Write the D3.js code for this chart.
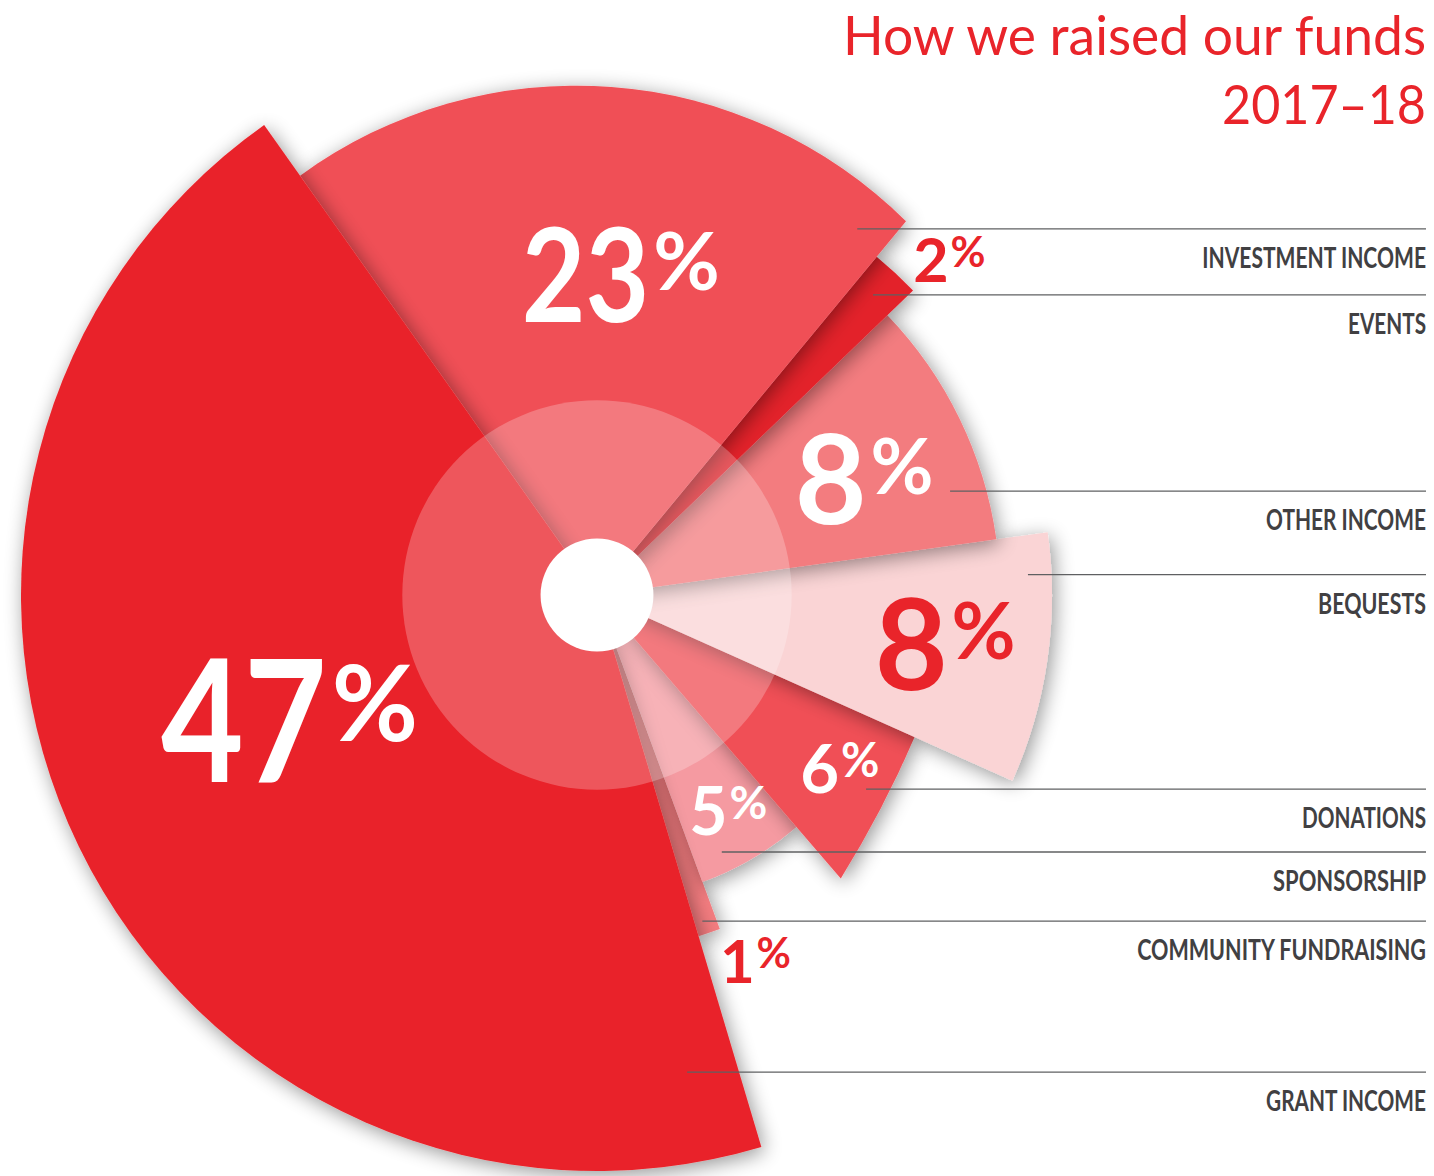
<!DOCTYPE html>
<html><head><meta charset="utf-8">
<script src="https://cdn.jsdelivr.net/npm/d3@7"></script>
<style>html,body{margin:0;padding:0;background:#fff;} svg{display:block;}</style>
</head><body>
<svg id="chart" width="1434" height="1176"></svg>
<script>
// ---------- data ----------
const categories = ["INVESTMENT INCOME","EVENTS","OTHER INCOME","BEQUESTS","DONATIONS","SPONSORSHIP","COMMUNITY FUNDRAISING","GRANT INCOME"];
const values = [23, 2, 8, 8, 6, 5, 1, 47];
// angular share of the turn each wedge occupies in the picture (percent of 360°)
const sweepShare = [20.8, 1.8, 10.0, 8.9, 7.0, 5.7, 1.0, 44.8];
// how far each wedge reaches (percent of the longest wedge) at its start, middle and end edge
const reachStart = [89.2, 76.2, 70.0, 79.0, 60.4, 53.1, 61.8, 100];
const reachMid   = [88.2, 76.2, 70.0, 79.0, 61.6, 53.1, 61.8, 100];
const reachEnd   = [84.2, 76.2, 70.0, 79.0, 64.9, 53.1, 61.8, 100];
const titleLines = ["How we raised our funds", "2017\u201318"];

// ---------- layout & style ----------
const W = 1434, H = 1176, cx = 597, cy = 595, Rmax = 576;
const deg = Math.PI / 180;
const startAt = -35.3 * deg;
const fills = ["#F04F56","#E3202A","#F37B7F","#FAD4D5","#F04F56","#F59AA1","#F37B7F","#E9242A"];
const labelFill = ["#fff","#E9242A","#fff","#E9242A","#fff","#fff","#E9242A","#fff"];
const drawOrder = [6,5,4,3,2,1,0,7];
// value label anchor: [angle°, reach%, digit font size]
const labelAt = [[345.6,48.9,131],[45.5,77.6,61],[70.7,37.3,124],[108.6,51.8,126],[133.9,49.6,67],[158.4,44.8,66],[162.1,70.8,60],[246.4,81.3,170]];
// leader line start: [angle°, reach%]
const leaderAt = [[35.4,78],[42.6,70.8],[73.6,63.9],[87.3,74.9],[125.8,57.6],[154.1,49.6],[162.1,59.5],[169.3,84.3]];
const catWidths = [224,78,160,108,124,153,289,160];
const rightEdge = 1426;
const FONT = "Lato, 'Open Sans', 'Noto Sans', sans-serif";

const svg = d3.select("#chart").attr("viewBox", `0 0 ${W} ${H}`);
svg.append("rect").attr("width", W).attr("height", H).attr("fill", "#fff");

const defs = svg.append("defs");
const f = defs.append("filter").attr("id","shadow").attr("x","-25%").attr("y","-25%").attr("width","150%").attr("height","150%");
f.append("feGaussianBlur").attr("in","SourceAlpha").attr("stdDeviation",10).attr("result","b");
f.append("feOffset").attr("in","b").attr("dx",3).attr("dy",4).attr("result","o");
f.append("feComponentTransfer").attr("in","o").attr("result","s")
  .append("feFuncA").attr("type","linear").attr("slope",0.42);
const fm = f.append("feMerge");
fm.append("feMergeNode").attr("in","s");
fm.append("feMergeNode").attr("in","SourceGraphic");

const rScale = d3.scaleLinear().domain([0, 100]).range([0, Rmax]);

const rows = categories.map((c, i) => ({
  cat: c, value: values[i], sweep: sweepShare[i],
  r0: reachStart[i], rm: reachMid[i], r1: reachEnd[i], i
}));

const pie = d3.pie().sort(null).value(d => d.sweep)
  .startAngle(startAt).endAngle(startAt + 2 * Math.PI);
const arcs = pie(rows);

const arcGen = d3.arc().innerRadius(0);

function wedge(d) {
  const a0 = d.startAngle, a1 = d.endAngle, am = (a0 + a1) / 2;
  const r0 = rScale(d.data.r0), rm = rScale(d.data.rm), r1 = rScale(d.data.r1);
  if (Math.abs(r0 - rm) < 0.01 && Math.abs(rm - r1) < 0.01) {
    return arcGen.outerRadius(r0)(d);
  }
  const [ax, ay] = d3.pointRadial(a0, r0);
  const [bx, by] = d3.pointRadial(am, rm);
  const [qx, qy] = d3.pointRadial(a1, r1);
  const dd = 2 * (ax * (by - qy) + bx * (qy - ay) + qx * (ay - by));
  const A = ax*ax + ay*ay, B = bx*bx + by*by, Q = qx*qx + qy*qy;
  const ux = (A * (by - qy) + B * (qy - ay) + Q * (ay - by)) / dd;
  const uy = (A * (qx - bx) + B * (ax - qx) + Q * (bx - ax)) / dd;
  const rad = Math.hypot(ax - ux, ay - uy);
  const s = Math.atan2(ay - uy, ax - ux), e = Math.atan2(qy - uy, qx - ux);
  const p = d3.path();
  p.moveTo(0, 0); p.lineTo(ax, ay); p.arc(ux, uy, rad, s, e, false); p.closePath();
  return p.toString();
}

const g = svg.append("g").attr("transform", `translate(${cx},${cy})`);
const wedges = g.append("g");
drawOrder.forEach(k => {
  const d = arcs[k];
  wedges.append("path").attr("d", wedge(d)).attr("fill", fills[k]).attr("filter", "url(#shadow)");
});

// translucent inner disc and white hub
g.append("circle").attr("r", rScale(33.8)).attr("fill", "#fff").attr("fill-opacity", 0.24);
g.append("circle").attr("r", rScale(9.8)).attr("fill", "#fff");

// helper: right-aligned text squeezed to a measured width via a transform
function fitText(parent, x, y, str, width, attrs) {
  const holder = parent.append("g").attr("transform", `translate(${x},${y})`);
  const t = holder.append("text").attr("x", 0).attr("y", 0).attr("text-anchor", "end").text(str);
  Object.entries(attrs).forEach(([k, v]) => t.attr(k, v));
  const w = t.node().getComputedTextLength();
  t.attr("transform", `scale(${width / w},1)`);
  return holder;
}

// leader lines and category labels
const legend = svg.append("g");
rows.forEach((d, i) => {
  const [lx, ly] = d3.pointRadial(leaderAt[i][0] * deg, rScale(leaderAt[i][1]));
  const y = cy + ly;
  legend.append("line").attr("x1", cx + lx).attr("x2", rightEdge).attr("y1", y).attr("y2", y)
    .attr("stroke", "#5f6062").attr("stroke-width", 1.3);
  fitText(legend, rightEdge, y + 39, d.cat, catWidths[i], {
    "font-family": FONT, "font-weight": 700, "font-size": 29, "fill": "#414042"
  });
});

// value labels
const vl = g.append("g");
rows.forEach((d, i) => {
  const [a, rr, D] = labelAt[i];
  const [px, py] = d3.pointRadial(a * deg, rScale(rr));
  const lg = vl.append("g").attr("transform", `translate(${px - 0.04 * D},${py})`);
  const digits = String(d.value);
  const squeeze = digits.length > 1 ? 0.84 : 1;
  const t = lg.append("text").attr("font-family", FONT).attr("font-weight", 700)
    .attr("font-size", D).attr("fill", labelFill[i]).text(digits);
  const len = t.node().getComputedTextLength() * squeeze;
  if (squeeze !== 1) t.attr("transform", `scale(${squeeze},1)`);
  const pctSize = D > 100 ? 0.62 * D : 0.7 * D;
  lg.append("text").attr("x", len + 0.03 * D).attr("y", -0.245 * D)
    .attr("font-family", FONT).attr("font-weight", 700)
    .attr("font-size", pctSize).attr("fill", labelFill[i]).text("%");
});

// title
const widthsTitle = [583, 204];
const ys = [55, 124];
titleLines.forEach((s, i) => {
  fitText(svg, rightEdge, ys[i], s, widthsTitle[i], {
    "font-family": FONT, "font-weight": 400, "font-size": 55, "fill": "#E9242A"
  });
});
</script>
</body></html>
